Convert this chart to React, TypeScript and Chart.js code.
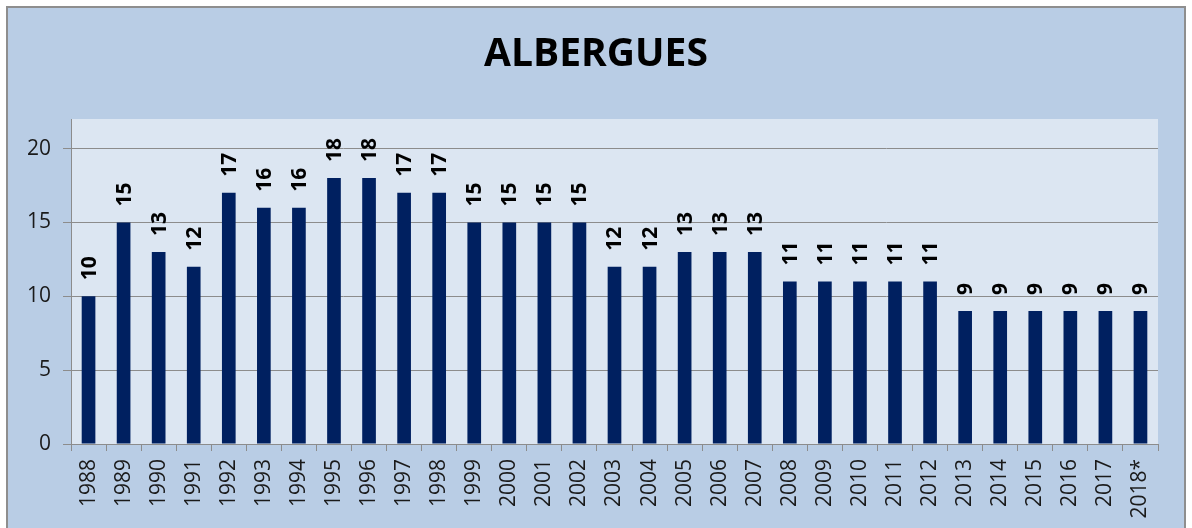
import React, { useEffect, useRef } from "react";
import { Chart, registerables } from "chart.js";

Chart.register(...registerables);

const chartTitle = "ALBERGUES";
const years = [
  "1988", "1989", "1990", "1991", "1992", "1993", "1994", "1995", "1996", "1997",
  "1998", "1999", "2000", "2001", "2002", "2003", "2004", "2005", "2006", "2007",
  "2008", "2009", "2010", "2011", "2012", "2013", "2014", "2015", "2016", "2017", "2018*",
];
const albergues = [
  10, 15, 13, 12, 17, 16, 16, 18, 18, 17,
  17, 15, 15, 15, 15, 12, 12, 13, 13, 13,
  11, 11, 11, 11, 11, 9, 9, 9, 9, 9, 9,
];
const yTicks = [0, 5, 10, 15, 20];

const FONT = "'Open Sans', 'Noto Sans', sans-serif";

const bgPlugin = {
  id: "bgPlugin",
  beforeDraw(chart: any) {
    const { ctx, chartArea, width, height } = chart;
    ctx.save();
    ctx.fillStyle = "#b9cde5";
    ctx.fillRect(0, 0, width, height);
    ctx.fillStyle = "#dce6f2";
    ctx.fillRect(chartArea.left, chartArea.top, chartArea.right - chartArea.left, chartArea.bottom - chartArea.top);
    ctx.restore();
  },
  afterDraw(chart: any) {
    const { ctx, width } = chart;
    ctx.save();
    ctx.fillStyle = "#000000";
    ctx.font = `bold 39px ${FONT}`;
    ctx.textAlign = "center";
    ctx.textBaseline = "middle";
    ctx.fillText(chartTitle, width / 2, 47);
    ctx.restore();
  },
};

const labelPlugin = {
  id: "labelPlugin",
  afterDatasetsDraw(chart: any) {
    const { ctx } = chart;
    const meta = chart.getDatasetMeta(0);
    const data = chart.data.datasets[0].data;
    ctx.save();
    ctx.fillStyle = "#000000";
    ctx.font = `bold 21px ${FONT}`;
    ctx.textAlign = "left";
    ctx.textBaseline = "middle";
    meta.data.forEach((bar: any, i: number) => {
      ctx.save();
      ctx.translate(bar.x + 1, bar.y - 16);
      ctx.rotate(-Math.PI / 2);
      ctx.fillText(String(data[i]), 0, 0);
      ctx.restore();
    });
    ctx.restore();
  },
};

export default function App() {
  const ref = useRef<HTMLCanvasElement>(null);
  useEffect(() => {
    document.documentElement.style.overflow = "hidden";
    document.body.style.margin = "0";
    document.body.style.overflow = "hidden";
    const chart = new Chart(ref.current!, {
      type: "bar",
      data: {
        labels: years,
        datasets: [
          {
            data: albergues,
            backgroundColor: "#002060",
            borderWidth: 0,
            barPercentage: 0.39,
            categoryPercentage: 1,
          },
        ],
      },
      options: {
        responsive: false,
        animation: false,
        layout: { padding: { top: 111, right: 26, left: 0, bottom: 0 } },
        plugins: { legend: { display: false }, tooltip: { enabled: false }, title: { display: false } },
        scales: {
          x: {
            offset: true,
            grid: {
              display: true,
              offset: true,
              drawOnChartArea: false,
              drawTicks: true,
              tickLength: 7,
              color: "#8c8c8c",
            },
            border: { display: true, color: "#8c8c8c", width: 1 },
            ticks: {
              autoSkip: false,
              minRotation: 90,
              maxRotation: 90,
              padding: 8,
              color: "#1a1a1a",
              font: { family: FONT, size: 21 },
            },
            afterFit(scale: any) {
              scale.height = 84;
            },
          },
          y: {
            min: 0,
            max: 22,
            ticks: {
              stepSize: 5,
              padding: 12,
              color: "#1a1a1a",
              font: { family: FONT, size: 21 },
            },
            afterBuildTicks(scale: any) {
              scale.ticks = yTicks.map((v) => ({ value: v }));
            },
            grid: {
              color: "#8c8c8c",
              tickLength: 8,
              drawTicks: true,
            },
            border: { display: true, color: "#8c8c8c", width: 1 },
            afterFit(scale: any) {
              scale.width = 63;
            },
          },
        },
      },
      plugins: [bgPlugin, labelPlugin],
    } as any);
    return () => chart.destroy();
  }, []);
  return (
    <div
      style={{
        position: "absolute",
        left: 6,
        top: 6,
        width: 1176,
        height: 522,
        border: "2px solid #8e8e8e",
        background: "#b9cde5",
        overflow: "hidden",
      }}
    >
      <canvas ref={ref} width={1176} height={520} style={{ display: "block" }} />
    </div>
  );
}
